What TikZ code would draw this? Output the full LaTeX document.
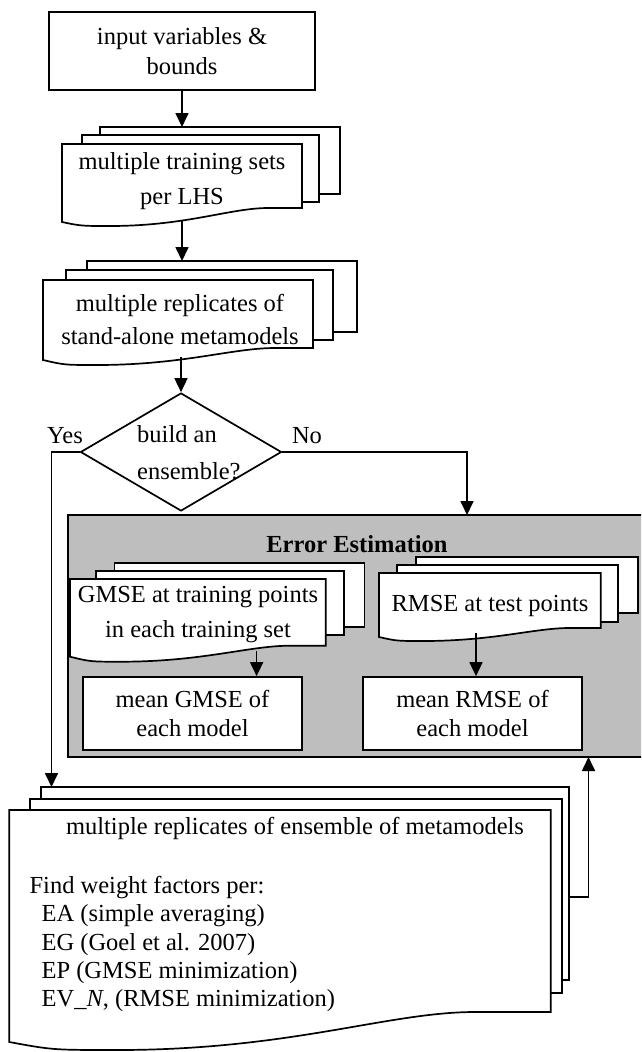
\documentclass[tikz,border=0pt]{standalone}
\usepackage{fontspec}
\setmainfont{Liberation Serif}
\usetikzlibrary{shapes.geometric,arrows.meta}
\definecolor{boxgray}{RGB}{190,190,190}
\tikzset{
  box/.style={draw, line width=1.7pt, fill=white, rectangle, inner sep=0pt, align=center},
  sheet/.style={draw, line width=1.7pt, fill=white},
  txt/.style={align=center, inner sep=0pt},
  arr/.style={line width=1.7pt, -{Triangle[length=14pt,width=13pt]}},
}
% front sheet of a document stack: x0, y0, x1, yLeftBottom, yRightBottom, dip
\newcommand\docshape[6]{%
  \pgfmathsetmacro\dsW{#3-#1}%
  \pgfmathsetmacro\dsA{#1+0.08*\dsW}%
  \pgfmathsetmacro\dsB{#1+0.2*\dsW}%
  \pgfmathsetmacro\dsC{#1+0.52*\dsW}%
  \pgfmathsetmacro\dsE{#1+0.7*\dsW}%
  \pgfmathsetmacro\dsF{#1+0.86*\dsW}%
  \pgfmathsetmacro\dsY{#4+#6}%
  \draw[sheet] (#1,#2) -- (#3,#2) -- (#3,#5) -- (\dsF,#5) .. controls (\dsE,#5) and (\dsC,\dsY) .. (\dsB,\dsY) .. controls (\dsA,\dsY) .. (#1,#4) -- cycle;
}
\begin{document}
\begin{tikzpicture}[x=1pt,y=-1pt]
\clip (0,0) rectangle (641,1052);
\fill[white] (0,0) rectangle (641,1052);

% input box
\node[box, minimum width=266pt, minimum height=78pt, font=\fontsize{24.5}{30}\selectfont] (inp) at (182,51) {input variables \&\\bounds};

% training sets stack
\draw[sheet] (100,127) rectangle (340,194);
\draw[sheet] (82,135) rectangle (319,202);
\docshape{62}{144}{302}{222}{208}{4}
\node[txt, font=\fontsize{24.5}{35}\selectfont] (ts) at (182,181) {multiple training sets\\per LHS};
\coordinate (tsTop) at (182,127);
\coordinate (tsBot) at (182,220);

% replicates stack
\draw[sheet] (87,261) rectangle (357,332);
\draw[sheet] (66,270) rectangle (333,340);
\docshape{43}{280}{313}{360}{348}{5}
\node[txt, font=\fontsize{24.5}{33}\selectfont] (rep) at (180,319) {multiple replicates of\\stand-alone metamodels};
\coordinate (repTop) at (182,261);
\coordinate (repBot) at (181,357);

% decision
\node[draw, diamond, line width=1.7pt, fill=white, minimum width=201pt, minimum height=118pt, inner sep=0pt] (dec) at (181,452) {};
\node[txt, align=left, anchor=west, font=\fontsize{24.5}{36.7}\selectfont] (dect) at (137,453) {build an\\ensemble?};
\node[txt, font=\fontsize{24.5}{29}\selectfont] (yes) at (65,436) {Yes};
\node[txt, font=\fontsize{24.5}{29}\selectfont] (no) at (307,436) {No};

\draw[arr] (inp.south) -- (tsTop);
\draw[arr] (tsBot) -- (repTop);
\draw[arr] (repBot) -- (dec.north);

% error estimation panel
\filldraw[fill=boxgray, line width=1.7pt] (68,515) rectangle (680,757);
\coordinate (eeTop) at (467,515);
\coordinate (eeBot) at (588.5,757);
\node[txt, font=\bfseries\fontsize{24.5}{29}\selectfont] (ee) at (357,544) {Error Estimation};

% GMSE stack
\draw[sheet] (114.5,563) rectangle (364.6,627);
\draw[sheet] (96,571) rectangle (344,635);
\docshape{70}{579}{325.7}{656.7}{645.7}{5}
\node[txt, font=\fontsize{24.5}{35}\selectfont] (gm) at (198,615) {GMSE at training points\\in each training set};
\coordinate (gmBot) at (256.6,651);

% RMSE stack
\draw[sheet] (416,557) rectangle (638,613);
\draw[sheet] (397,565) rectangle (618,622);
\docshape{379}{573}{600.7}{637}{628}{4}
\node[txt, font=\fontsize{24.5}{29}\selectfont] (rm) at (490,606) {RMSE at test points};
\coordinate (rmBot) at (476,633);

% mean boxes
\node[box, minimum width=219pt, minimum height=73pt, font=\fontsize{24.5}{28.7}\selectfont] (mg) at (192.5,713.5) {mean GMSE of\\each model};
\node[box, minimum width=219pt, minimum height=73pt, font=\fontsize{24.5}{28.7}\selectfont] (mr) at (472.5,713.5) {mean RMSE of\\each model};
\draw[arr] (gmBot) -- (gmBot |- mg.north);
\draw[arr] (rmBot) -- (rmBot |- mr.north);

% ensemble stack
\draw[sheet] (40.7,787) rectangle (569,980);
\draw[sheet] (30,799) rectangle (561.7,993);
\docshape{9.3}{810}{550.7}{1042}{1012}{8}
\node[txt, font=\fontsize{24.5}{29}\selectfont] (ens) at (295,828) {multiple replicates of ensemble of metamodels};
\node[txt, align=left, anchor=north west, font=\fontsize{24.5}{28.3}\selectfont] (wf) at (29.4,876) {Find weight factors per:\\
\hspace*{12pt}EA (simple averaging)\\
\hspace*{12pt}EG (Goel et al. 2007)\\
\hspace*{12pt}EP (GMSE minimization)\\
\hspace*{12pt}EV\_\textit{N}, (RMSE minimization)};
\coordinate (ensTop) at (51.5,787);
\coordinate (ensR) at (569,897);

% connectors to/from panel
\draw[arr] (dec.west) -| (ensTop);
\draw[arr] (dec.east) -| (eeTop);
\draw[arr] (ensR) -| (eeBot);
\end{tikzpicture}
\end{document}
